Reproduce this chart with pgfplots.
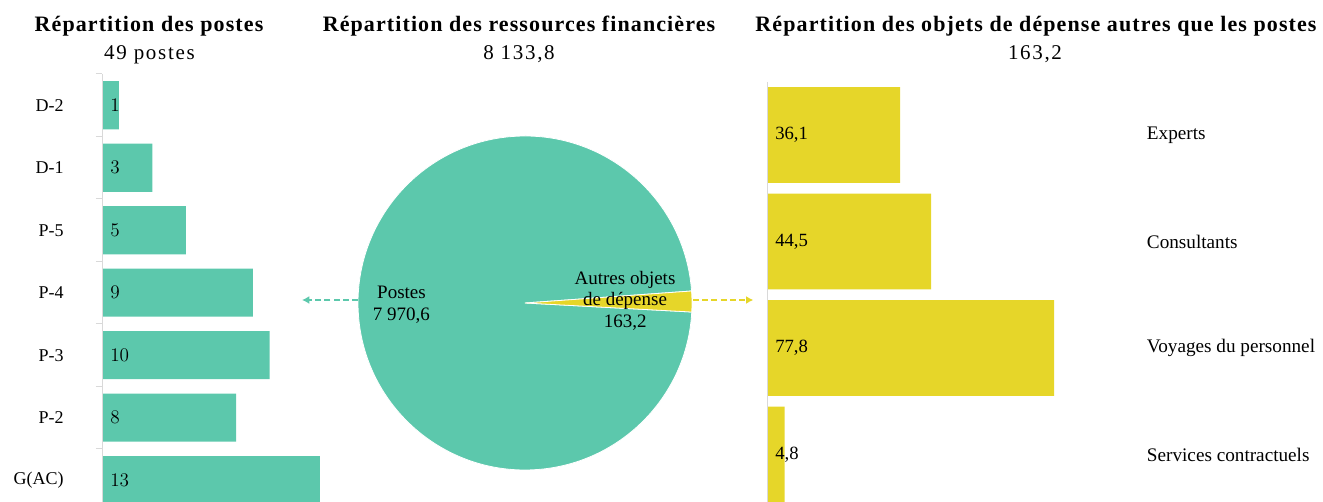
\documentclass[border=0pt]{standalone}
\usepackage{fontspec}
\setmainfont{Liberation Serif}
\newfontfamily\titlefont[LetterSpace=5]{Liberation Serif}
\newfontfamily\subfont[LetterSpace=8]{Liberation Serif}
\usepackage{pgfplots}
\pgfplotsset{compat=1.18}
\usepackage{pgfplotstable}
\usetikzlibrary{arrows.meta}
\definecolor{postes}{RGB}{92,200,172}
\definecolor{autres}{RGB}{230,214,41}
\definecolor{axgray}{RGB}{217,217,217}

% postes par classe (0 = G(AC) en bas, 6 = D-2 en haut)
\pgfplotstableread{
pos val
6 1
5 3
4 5
3 9
2 10
1 8
0 13
}\grades
% objets de depense autres que les postes
\pgfplotstableread{
pos val
3 36.1
2 44.5
1 77.8
0 4.8
}\objets
\def\postesval{7970.6}
\def\autresval{163.2}

\begin{document}
\begin{tikzpicture}
\useasboundingbox (0,0) rectangle (992.25pt,376.5pt);

% titles
\node[anchor=base,font=\titlefont\bfseries\fontsize{16.5}{19}\selectfont] at (111.75pt,352.5pt) {Répartition des postes};
\node[anchor=base,font=\subfont\fontsize{15.75}{18}\selectfont] at (112.1pt,331.5pt) {49 postes};
\node[anchor=base,font=\titlefont\bfseries\fontsize{16.5}{19}\selectfont] at (389.25pt,352.5pt) {Répartition des ressources financières};
\node[anchor=base,font=\subfont\fontsize{15.75}{18}\selectfont] at (389.25pt,331.5pt) {8 133,8};
\node[anchor=base,font=\titlefont\bfseries\fontsize{16.5}{19}\selectfont] at (777pt,352.5pt) {Répartition des objets de dépense autres que les postes};
\node[anchor=base,font=\subfont\fontsize{15.75}{18}\selectfont] at (776.25pt,331.5pt) {163,2};

% left: postes
\begin{axis}[
  at={(76.5pt,0pt)}, anchor=south west,
  scale only axis, width=175.875pt, height=321pt,
  xmin=0, xmax=14, ymin=-0.35, ymax=6.5,
  axis line style={draw=none},
  xtick=\empty, ytick pos=left,
  ytick={0,...,6}, yticklabels={G(AC),P-2,P-3,P-4,P-5,D-1,D-2},
  major tick length=0pt,
  yticklabel style={font=\fontsize{13.5}{16}\selectfont, inner sep=0pt, anchor=east, xshift=-28.5pt},
  extra y ticks={0.5,1.5,2.5,3.5,4.5,5.5,6.5},
  extra y tick labels={},
  extra y tick style={major tick length=4.5pt, tick align=outside,
    tick style={axgray, line width=0.75pt}},
]
  \addplot[xbar, bar width=0.77, fill=postes, draw=none] table[x=val, y=pos] {\grades};
  \addplot[draw=none, nodes near coords, point meta=explicit,
    nodes near coords style={anchor=west, inner sep=0pt, xshift=6pt,
      font=\fontsize{13.5}{16}\selectfont}]
    table[x expr=0, y=pos, meta=val] {\grades};
  \draw[axgray, line width=0.75pt] (axis cs:0,-0.35) -- (axis cs:0,6.5);
\end{axis}

% middle: pie
\pgfmathsetmacro\sweep{\autresval/(\postesval+\autresval)*360}
\pgfmathsetmacro\aS{-3.1}
\pgfmathsetmacro\aE{\aS+\sweep}
\pgfmathsetmacro\aF{\aS+360}
\begin{axis}[
  at={(393.75pt,149.25pt)}, anchor=center,
  scale only axis, width=250.5pt, height=250.5pt,
  xmin=-1, xmax=1, ymin=-1, ymax=1, hide axis, clip=false,
]
  \fill[postes, draw=white, line width=0.6pt] (axis cs:0,0) -- (axis cs:{cos(\aE)},{sin(\aE)})
    arc[start angle=\aE, end angle=\aF, radius=125.25pt] -- cycle;
  \fill[autres, draw=white, line width=0.6pt] (axis cs:0,0) -- (axis cs:{cos(\aS)},{sin(\aS)})
    arc[start angle=\aS, end angle=\aE, radius=125.25pt] -- cycle;
\end{axis}
\begin{scope}[every node/.style={anchor=base, font=\fontsize{14.25}{17}\selectfont}]
  \node at (301.1pt,152.25pt) {Postes};
  \node at (301.1pt,135.75pt) {7 970,6};
  \node at (468.75pt,162.75pt) {Autres objets};
  \node at (468.75pt,147pt) {de dépense};
  \node at (469pt,130.5pt) {163,2};
\end{scope}
\draw[postes, line width=1.9pt, dash pattern=on 4.5pt off 2.4pt, -{Latex[length=5.5pt,width=6pt]}]
  (268.5pt,151.5pt) -- (226.5pt,151.5pt);
\draw[autres, line width=1.9pt, dash pattern=on 4.5pt off 2.4pt, -{Latex[length=5.5pt,width=6pt]}]
  (519.75pt,151.5pt) -- (565pt,151.5pt);

% right: autres objets
\begin{axis}[
  at={(575.25pt,0pt)}, anchor=south west,
  scale only axis, width=279.5pt, height=315.2pt,
  xmin=0, xmax=101, ymin=-0.446, ymax=3.5,
  axis line style={draw=none},
  xtick=\empty,
  ytick={0,...,3}, yticklabels={Services contractuels,Voyages du personnel,Consultants,Experts},
  yticklabel pos=right,
  major tick length=0pt,
  yticklabel style={font=\fontsize{14.4}{17}\selectfont, inner sep=0pt, anchor=west, xshift=5.25pt},
  /pgf/number format/assume math mode=true,
]
  \addplot[xbar, bar width=0.9, fill=autres, draw=none] table[x=val, y=pos] {\objets};
  \addplot[draw=none, nodes near coords, point meta=explicit,
    nodes near coords style={anchor=west, inner sep=0pt, xshift=6pt,
      font=\fontsize{14}{16}\selectfont,
      /pgf/number format/.cd, use comma, fixed, fixed zerofill, precision=1,
      assume math mode=true}]
    table[x expr=0, y=pos, meta=val] {\objets};
  \draw[axgray, line width=0.75pt] (axis cs:0,-0.446) -- (axis cs:0,3.5);
\end{axis}
\end{tikzpicture}
\end{document}
